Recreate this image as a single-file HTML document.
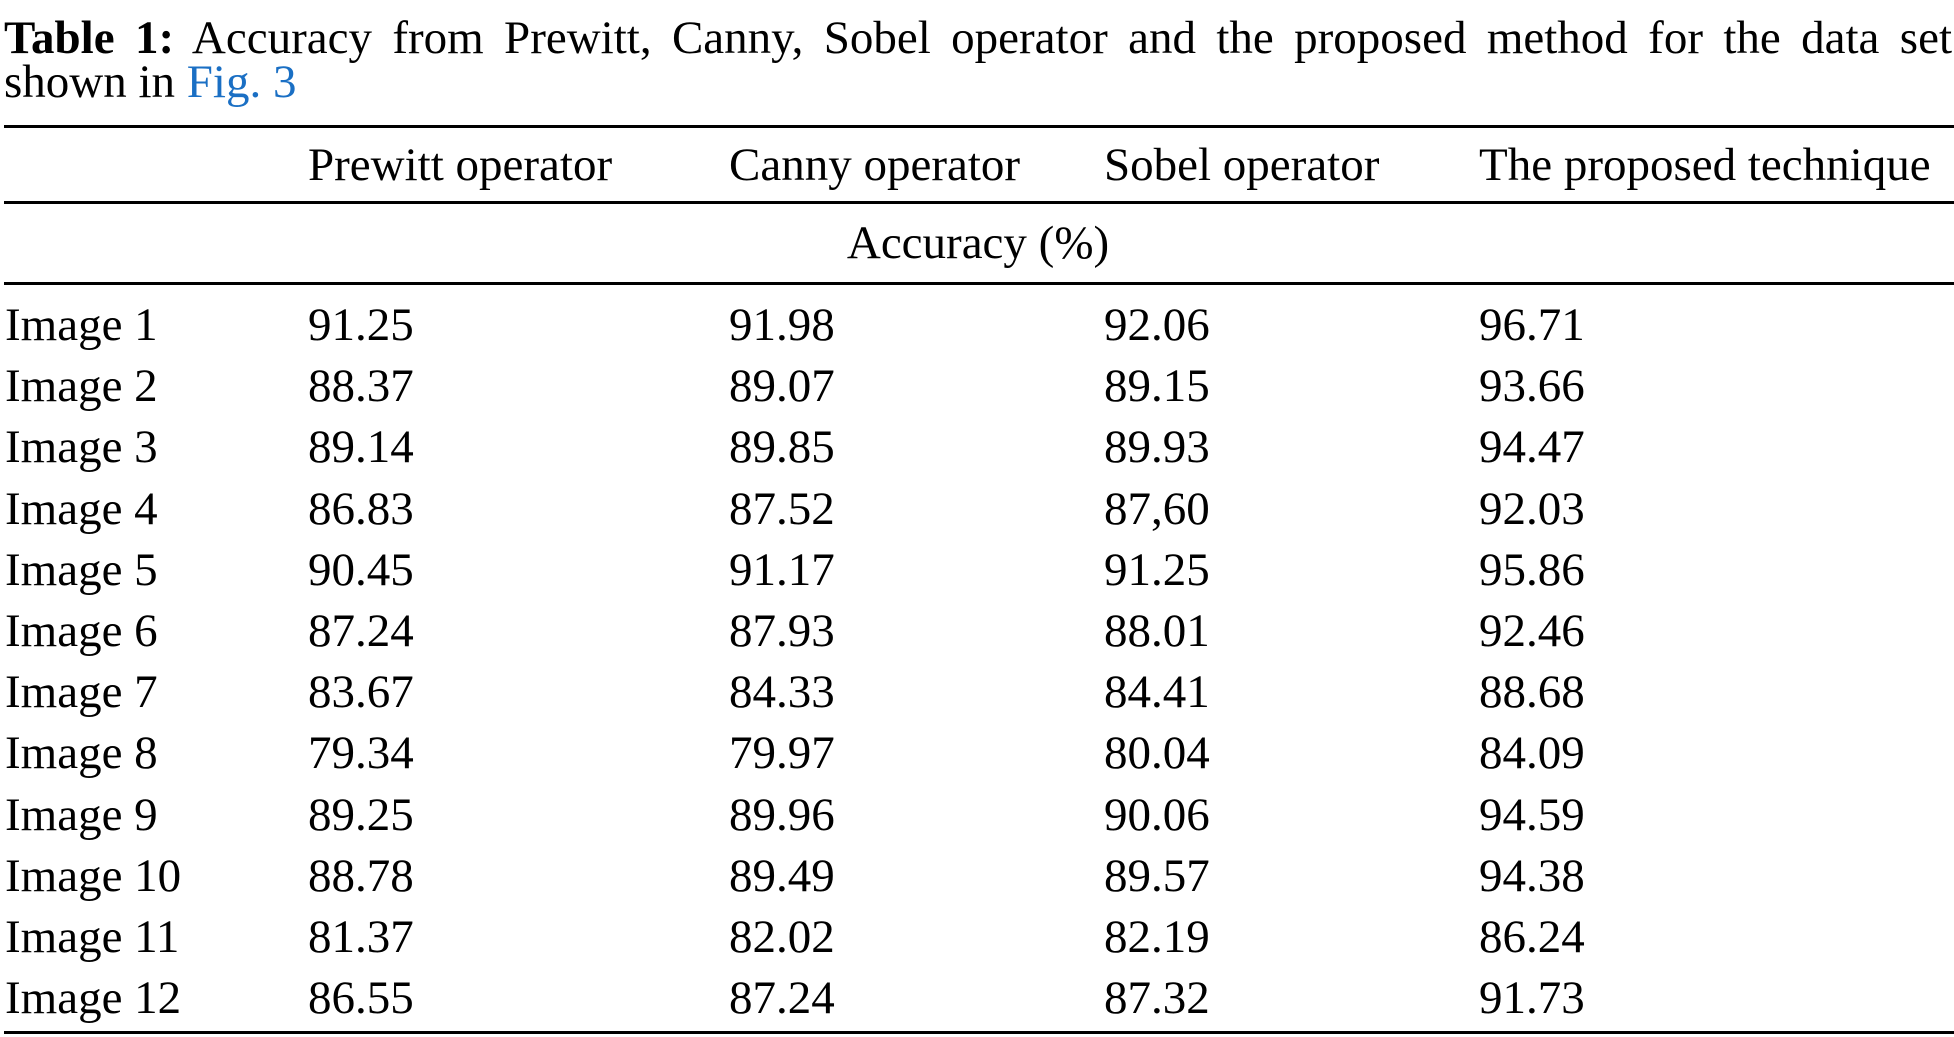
<!DOCTYPE html>
<html><head><meta charset="utf-8"><style>
html,body{margin:0;padding:0;background:#fff;}
body{width:1954px;height:1037px;position:relative;overflow:hidden;font-family:"Liberation Serif",serif;color:#000;font-size:47px;}
.t{position:absolute;white-space:nowrap;line-height:1;}
.r{position:absolute;left:4px;width:1950px;height:3px;background:#000;}
.cap{position:absolute;left:4px;width:1948px;text-align:justify;text-align-last:justify;white-space:nowrap;line-height:1;}
</style></head><body>
<div class="cap" style="top:15px;"><b>Table 1:</b> Accuracy from Prewitt, Canny, Sobel operator and the proposed method for the data set</div>
<div class="t" style="left:4px;top:59px;">shown in <span style="color:#1a6fc4">Fig. 3</span></div>
<div class="r" style="top:125px;"></div>
<div class="r" style="top:201px;"></div>
<div class="r" style="top:282px;"></div>
<div class="r" style="top:1031px;"></div>
<script>
var Y0=142, DY=61.2;
function t(x,y,s){var d=document.createElement('div');d.className='t';d.style.left=x+'px';d.style.top=y+'px';d.textContent=s;document.body.appendChild(d);}
var cx=[5,308,729,1104,1479];
t(308,Y0,'Prewitt operator');t(729,Y0,'Canny operator');t(1104,Y0,'Sobel operator');t(1479,Y0,'The proposed technique');
var a=document.createElement('div');a.className='t';a.style.left='978px';a.style.top='220px';a.style.transform='translateX(-50%)';a.textContent='Accuracy (%)';document.body.appendChild(a);
var rows=[["91.25","91.98","92.06","96.71"],["88.37","89.07","89.15","93.66"],["89.14","89.85","89.93","94.47"],["86.83","87.52","87,60","92.03"],["90.45","91.17","91.25","95.86"],["87.24","87.93","88.01","92.46"],["83.67","84.33","84.41","88.68"],["79.34","79.97","80.04","84.09"],["89.25","89.96","90.06","94.59"],["88.78","89.49","89.57","94.38"],["81.37","82.02","82.19","86.24"],["86.55","87.24","87.32","91.73"]];
for(var i=0;i<12;i++){var y=302+i*DY;t(cx[0],y,'Image '+(i+1));for(var j=0;j<4;j++)t(cx[j+1],y,rows[i][j]);}
</script>
</body></html>
